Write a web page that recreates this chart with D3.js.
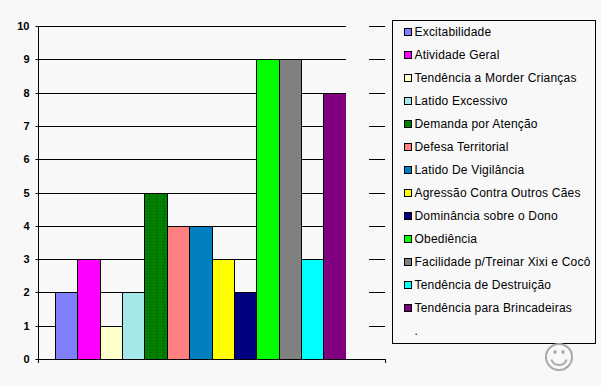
<!DOCTYPE html>
<html>
<head>
<meta charset="utf-8">
<script src="https://cdn.jsdelivr.net/npm/d3@7"></script>
<style>
  html, body { margin: 0; padding: 0; background: #f8f8f8; overflow: hidden; }
  svg { display: block; }
  text { font-family: "Liberation Sans", Arial, sans-serif; fill: #000; }
</style>
</head>
<body>
<svg></svg>
<script>
const categories = ["Excitabilidade", "Atividade Geral", "Tendência a Morder Crianças", "Latido Excessivo",
  "Demanda por Atenção", "Defesa Territorial", "Latido De Vigilância", "Agressão Contra Outros Cães",
  "Dominância sobre o Dono", "Obediência", "Facilidade p/Treinar Xixi e Cocô", "Tendência de Destruição",
  "Tendência para Brincadeiras", "."];
const values = [2, 3, 1, 2, 5, 4, 4, 3, 2, 9, 9, 3, 8, 10];
const colors = ["#8080ff", "#ff00ff", "#ffffcc", "#a6e8e8", "#008000", "#ff8080", "#0080c0", "#ffff00",
  "#000080", "#00ff00", "#808080", "#00ffff", "#800080", "#f8f8f8"];
const yTicks = [0, 1, 2, 3, 4, 5, 6, 7, 8, 9, 10];

const w = 601;
const h = 386;
const bg = "#f8f8f8";

const svg = d3.select("svg").attr("width", w).attr("height", h);

//Speckle seen on the dark green bar
const speckle = svg.append("defs").append("pattern")
   .attr("id", "speckle")
   .attr("patternUnits", "userSpaceOnUse")
   .attr("width", 7).attr("height", 6);
speckle.append("rect").attr("width", 7).attr("height", 6).attr("fill", colors[4]);
speckle.append("rect").attr("x", 2).attr("y", 1).attr("width", 1).attr("height", 1).attr("fill", "#004000");
speckle.append("rect").attr("x", 3).attr("y", 4).attr("width", 1).attr("height", 1).attr("fill", "#004000");

//Scales
const xScale = d3.scaleBand()
                 .domain(categories)
                 .range([38.3, 384.8])
                 .paddingInner(0)
                 .paddingOuter(0.75);

const yScale = d3.scaleLinear()
                 .domain([0, 10])
                 .range([359.5, 26.5]);

const yPixel = (d) => Math.round(yScale(d) - 0.5) + 0.5;

//Gridlines first so the bars cover them
svg.append("g")
   .selectAll("line")
   .data(yTicks)
   .enter()
   .append("line")
   .attr("x1", 38.5)
   .attr("x2", 385)
   .attr("y1", yPixel)
   .attr("y2", yPixel)
   .attr("stroke", "#000");

//Bars, the last one is an empty entry painted in the background colour
svg.append("g")
   .selectAll("rect")
   .data(categories)
   .enter()
   .append("rect")
   .attr("x", d => Math.round(xScale(d)) + 0.5)
   .attr("y", (d, i) => yPixel(values[i]))
   .attr("width", d => Math.round(xScale(d) + xScale.bandwidth()) - Math.round(xScale(d)))
   .attr("height", (d, i) => yPixel(0) - yPixel(values[i]))
   .attr("fill", (d, i) => i === 4 ? "url(#speckle)" : colors[i])
   .attr("stroke", (d, i) => i === 13 ? bg : "#000");

//Axes
const yAxis = d3.axisLeft(yScale).tickValues(yTicks).tickSize(3).tickPadding(6).tickFormat(d3.format("d"));
const yG = svg.append("g").attr("transform", "translate(38.5, 0)").call(yAxis);
yG.select(".domain").remove();
yG.selectAll(".tick").attr("transform", d => "translate(0, " + yPixel(d) + ")");
yG.selectAll("text").style("font-size", "11px").style("font-weight", "bold")
  .style("font-family", '"Liberation Sans", Arial, sans-serif').attr("fill", "#000");
yG.selectAll("line").attr("stroke", "#000");

svg.append("line").attr("x1", 38.5).attr("x2", 38.5).attr("y1", 26).attr("y2", 363).attr("stroke", "#000");
svg.append("line").attr("x1", 38.5).attr("x2", 385).attr("y1", 359.5).attr("y2", 359.5).attr("stroke", "#000");
svg.append("line").attr("x1", 385.5).attr("x2", 385.5).attr("y1", 359).attr("y2", 363).attr("stroke", "#000");

//Legend
const legendY = d3.scalePoint().domain(categories).range([31.5, 331]);

svg.append("rect")
   .attr("x", 392.5).attr("y", 20.5)
   .attr("width", 203).attr("height", 323)
   .attr("fill", bg).attr("stroke", "#000");

const legend = svg.append("g")
   .selectAll("g")
   .data(categories)
   .enter()
   .append("g")
   .attr("transform", d => "translate(0, " + Math.round(legendY(d)) + ")");

legend.filter((d, i) => i < 13)
   .append("rect")
   .attr("x", 404.5).attr("y", -3.5)
   .attr("width", 7).attr("height", 7)
   .attr("fill", (d, i) => colors[i])
   .attr("stroke", "#000");

legend.append("text")
   .attr("x", 414.5)
   .attr("y", 4)
   .style("font-size", "12px")
   .style("letter-spacing", "0.2px")
   .text(d => d);

//Smiley in the corner
const smile = svg.append("g").attr("transform", "translate(559, 357)")
   .attr("fill", "none").attr("stroke", "#a8a8a8").attr("stroke-width", 2);
smile.append("circle").attr("r", 13);
smile.append("ellipse").attr("cx", -4).attr("cy", -5).attr("rx", 1.6).attr("ry", 2).attr("fill", "#a8a8a8").attr("stroke", "none");
smile.append("ellipse").attr("cx", 4).attr("cy", -5).attr("rx", 1.6).attr("ry", 2).attr("fill", "#a8a8a8").attr("stroke", "none");
smile.append("path").attr("d", d3.arc()({ innerRadius: 8, outerRadius: 8, startAngle: Math.PI * 0.6, endAngle: Math.PI * 1.4 }));
</script>
</body>
</html>
